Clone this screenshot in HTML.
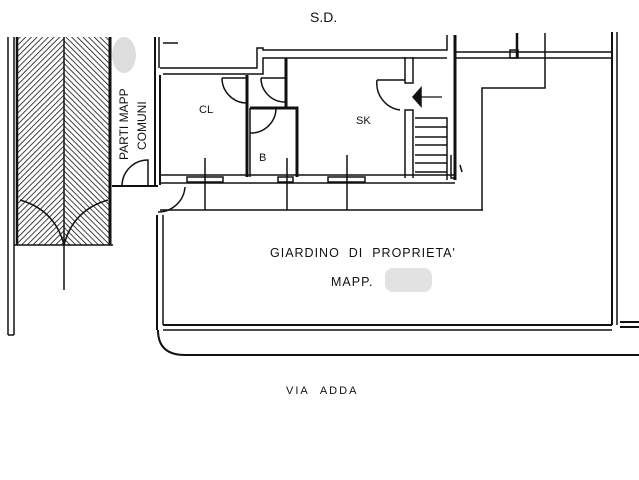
<!DOCTYPE html>
<html><head><meta charset="utf-8"><style>
html,body{margin:0;padding:0;background:#fff;}
svg{display:block;}
text{font-family:"Liberation Sans",sans-serif;fill:#111;}
</style></head><body>
<svg width="639" height="480" viewBox="0 0 639 480" xmlns="http://www.w3.org/2000/svg">
<defs>
<pattern id="hA" width="4" height="4" patternUnits="userSpaceOnUse" patternTransform="rotate(45)">
<line x1="0" y1="0" x2="0" y2="4" stroke="#111" stroke-width="1.6"/></pattern>
<pattern id="hB" width="4" height="4" patternUnits="userSpaceOnUse" patternTransform="rotate(-45)">
<line x1="0" y1="0" x2="0" y2="4" stroke="#111" stroke-width="1.6"/></pattern>
</defs>
<g stroke="#111" fill="none" stroke-width="1.5">
<!-- left strip -->
<rect x="17" y="37" width="47" height="208" fill="url(#hA)" stroke="none"/>
<rect x="64" y="37" width="46" height="208" fill="url(#hB)" stroke="none"/>
<line x1="8" y1="37" x2="8" y2="335"/><line x1="14" y1="37" x2="14" y2="335"/>
<line x1="8" y1="335" x2="14" y2="335"/>
<line x1="17" y1="37" x2="17" y2="245" stroke-width="2.5"/>
<line x1="110" y1="37" x2="110" y2="245" stroke-width="3"/>
<line x1="14" y1="245" x2="113" y2="245"/>
<line x1="64" y1="37" x2="64" y2="290"/>
<path d="M20 200 Q55 210 64 245 M108 200 Q73 210 64 245"/>
<!-- door common -->
<line x1="112" y1="186" x2="158" y2="186" stroke-width="2"/>
<path d="M122 186 A26 26 0 0 1 148 160 L148 186"/>
<!-- building outline -->
<line x1="155" y1="37" x2="155" y2="185" stroke-width="2"/>
<line x1="159" y1="37" x2="159" y2="68"/>
<line x1="163" y1="43" x2="178" y2="43"/>
<line x1="160" y1="75" x2="160" y2="185" stroke-width="2"/>
<path d="M160 68 L257 68 L257 48 L263 48 L263 50 L447 50 L447 35"/>
<path d="M163 74 L263 74 L263 58 L447 58"/>
<line x1="455" y1="35" x2="455" y2="180" stroke-width="3"/>
<path d="M455 52 L612 52 M455 58 L612 58"/>
<rect x="510" y="50" width="8" height="8"/>
<line x1="517" y1="33" x2="517" y2="58" stroke-width="2.5"/>
<path d="M545 33 L545 88 L482 88 L482 210"/>
<line x1="612" y1="32" x2="612" y2="325" stroke-width="2"/>
<line x1="617" y1="32" x2="617" y2="325"/>
<!-- rooms -->
<line x1="247" y1="75" x2="247" y2="177" stroke-width="3"/>
<line x1="286" y1="58" x2="286" y2="108" stroke-width="3"/>
<path d="M250 108 L297 108 L297 177" stroke-width="3"/>
<line x1="250" y1="108" x2="250" y2="177"/>
<path d="M405 57 L405 83 L413 83 L413 57"/>
<path d="M405 178 L405 110 L413 110 L413 178"/>
<!-- stairs -->
<path d="M415 118 L447 118 L447 180"/>
<path d="M415 127 L447 127 M415 137 L447 137 M415 145 L447 145 M415 155 L447 155 M415 163 L447 163 M415 172 L447 172"/>
<path d="M451 155 L451 178 L456 178 M460 165 L462 172"/>
<!-- bottom wall -->
<path d="M160 175 L455 175 M160 183 L455 183"/>
<rect x="187" y="177" width="36" height="5" fill="#fff"/>
<rect x="278" y="177" width="15" height="5" fill="#fff"/>
<rect x="328" y="177" width="37" height="5" fill="#fff"/>
<path d="M205 158 L205 210 M287 158 L287 210 M347 155 L347 210"/>
<line x1="160" y1="210" x2="483" y2="210"/>
<!-- doors -->
<path d="M222 78 A25 25 0 0 0 247 103 M222 78 L247 78"/>
<path d="M261 78 A24 24 0 0 0 285 102 M261 78 L285 78"/>
<path d="M250 133 A25 25 0 0 0 276 108"/>
<path d="M377 80 A27 27 0 0 0 400 110 M377 80 L405 80"/>
<path d="M158 212 A27 27 0 0 0 185 187"/>
<!-- arrow -->
<path d="M420 97 L442 97" stroke-width="1.3"/>
<path d="M413 97 L421 88 L421 106 Z" fill="#111"/>
<!-- garden -->
<line x1="157" y1="215" x2="157" y2="330" stroke-width="2"/>
<line x1="163" y1="215" x2="163" y2="325"/>
<line x1="163" y1="325" x2="612" y2="325" stroke-width="2"/>
<line x1="163" y1="330" x2="612" y2="330"/>
<path d="M620 322 L639 322 M620 327 L639 327" stroke-width="2"/>
<path d="M158 330 Q158 355 185 355 L639 355" stroke-width="2"/>
</g>
<!-- blobs -->
<ellipse cx="124" cy="55" rx="12" ry="18" fill="#ddd"/>
<rect x="385" y="268" width="47" height="24" rx="8" fill="#e2e2e2"/>
<!-- labels -->
<text x="310" y="22" font-size="14">S.D.</text>
<text x="199" y="113" font-size="11">CL</text>
<text x="259" y="161" font-size="11">B</text>
<text x="356" y="124" font-size="11">SK</text>
<text x="270" y="257" font-size="12.5" letter-spacing="1">GIARDINO&#160;&#160;DI&#160;&#160;PROPRIETA'</text>
<text x="331" y="286" font-size="12.5" letter-spacing="1">MAPP.</text>
<text x="286" y="394" font-size="11" letter-spacing="2">VIA&#160;&#160;ADDA</text>
<text transform="translate(128,160) rotate(-90)" font-size="12">PARTI MAPP</text>
<text transform="translate(146,150) rotate(-90)" font-size="12">COMUNI</text>
</svg>
</body></html>
